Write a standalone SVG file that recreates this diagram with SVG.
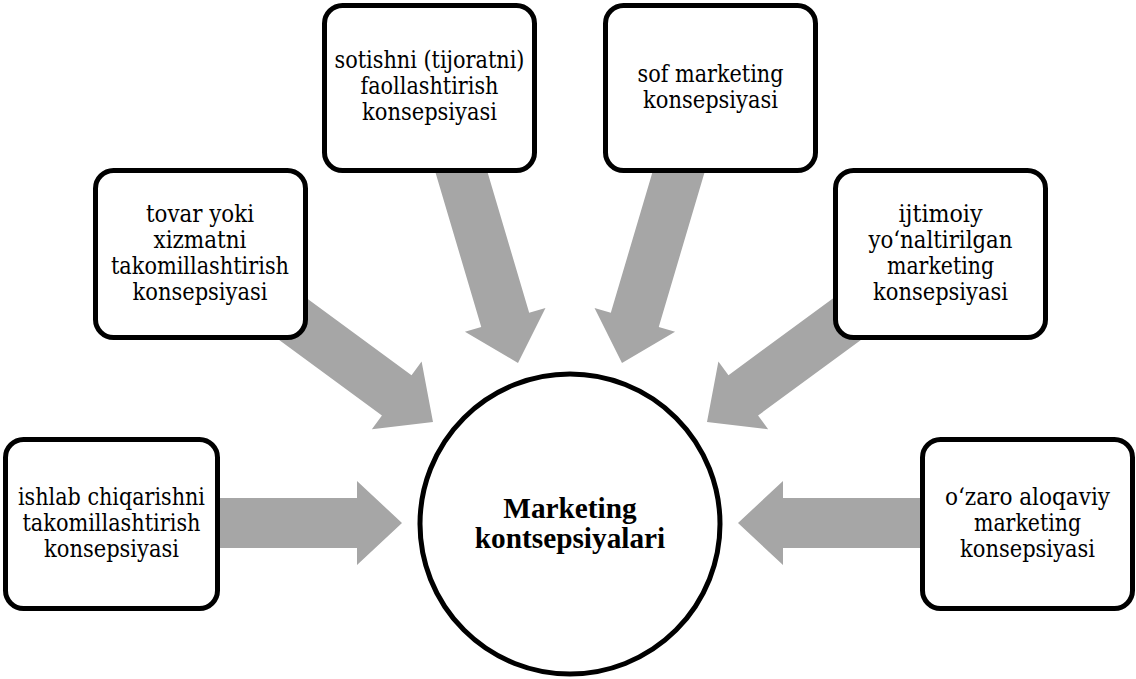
<svg xmlns="http://www.w3.org/2000/svg" width="1136" height="679" viewBox="0 0 1136 679">
<style>
.box{fill:#fff;stroke:#000;stroke-width:5}
.arr{fill:#a6a6a6}
.t{font-family:'DejaVu Serif Condensed','DejaVu Serif',serif;font-stretch:condensed;font-size:23.5px;fill:#000;text-anchor:middle}
.c{font-family:'Liberation Serif','Times New Roman',serif;font-size:29.3px;font-weight:bold;fill:#000;text-anchor:middle}
</style>
<defs>
<polygon id="arrow" points="-250,-25 -45,-25 -45,-42 0,0 -45,42 -45,25 -250,25"/>
</defs>
<rect width="1136" height="679" fill="#fff"/>
<g id="connectors" class="arr">
<use href="#arrow" transform="translate(402,523)"/>
<use href="#arrow" transform="translate(433,422) rotate(36.3)"/>
<use href="#arrow" transform="translate(518,363) rotate(73.5)"/>
<use href="#arrow" transform="translate(622,363) rotate(106.5)"/>
<use href="#arrow" transform="translate(707,422) rotate(143.7)"/>
<use href="#arrow" transform="translate(738,523) rotate(180)"/>
</g>
<g id="center">
<circle cx="570" cy="524" r="150" fill="#fff" stroke="#000" stroke-width="5"/>
<text class="c" x="570" y="518">Marketing</text>
<text class="c" x="570" y="548">kontsepsiyalari</text>
</g>
<g id="n1">
<rect class="box" x="5.5" y="439.5" width="212" height="169" rx="18"/>
<text class="t" x="111.5" y="505" textLength="187" lengthAdjust="spacingAndGlyphs">ishlab chiqarishni</text>
<text class="t" x="111.5" y="531" textLength="178" lengthAdjust="spacingAndGlyphs">takomillashtirish</text>
<text class="t" x="111.5" y="557" textLength="135" lengthAdjust="spacingAndGlyphs">konsepsiyasi</text>
</g>
<g id="n2">
<rect class="box" x="95.5" y="170.5" width="210" height="167" rx="18"/>
<text class="t" x="200" y="222" textLength="108" lengthAdjust="spacingAndGlyphs">tovar yoki</text>
<text class="t" x="200" y="248" textLength="93" lengthAdjust="spacingAndGlyphs">xizmatni</text>
<text class="t" x="200" y="274" textLength="178" lengthAdjust="spacingAndGlyphs">takomillashtirish</text>
<text class="t" x="200" y="300" textLength="135" lengthAdjust="spacingAndGlyphs">konsepsiyasi</text>
</g>
<g id="n3">
<rect class="box" x="324.5" y="5.5" width="210" height="165" rx="18"/>
<text class="t" x="429.5" y="68" textLength="190" lengthAdjust="spacingAndGlyphs">sotishni (tijoratni)</text>
<text class="t" x="429.5" y="94" textLength="138" lengthAdjust="spacingAndGlyphs">faollashtirish</text>
<text class="t" x="429.5" y="120" textLength="135" lengthAdjust="spacingAndGlyphs">konsepsiyasi</text>
</g>
<g id="n4">
<rect class="box" x="605.5" y="5.5" width="210" height="165" rx="18"/>
<text class="t" x="710.5" y="82" textLength="146" lengthAdjust="spacingAndGlyphs">sof marketing</text>
<text class="t" x="710.5" y="108" textLength="135" lengthAdjust="spacingAndGlyphs">konsepsiyasi</text>
</g>
<g id="n5">
<rect class="box" x="835.5" y="170.5" width="210" height="167" rx="18"/>
<text class="t" x="940.5" y="222" textLength="84" lengthAdjust="spacingAndGlyphs">ijtimoiy</text>
<text class="t" x="940.5" y="248" textLength="144" lengthAdjust="spacingAndGlyphs">yo‘naltirilgan</text>
<text class="t" x="940.5" y="274" textLength="107" lengthAdjust="spacingAndGlyphs">marketing</text>
<text class="t" x="940.5" y="300" textLength="135" lengthAdjust="spacingAndGlyphs">konsepsiyasi</text>
</g>
<g id="n6">
<rect class="box" x="922.5" y="439.5" width="210" height="169" rx="18"/>
<text class="t" x="1027.5" y="505" textLength="165" lengthAdjust="spacingAndGlyphs">o‘zaro aloqaviy</text>
<text class="t" x="1027.5" y="531" textLength="107" lengthAdjust="spacingAndGlyphs">marketing</text>
<text class="t" x="1027.5" y="557" textLength="135" lengthAdjust="spacingAndGlyphs">konsepsiyasi</text>
</g>
</svg>
